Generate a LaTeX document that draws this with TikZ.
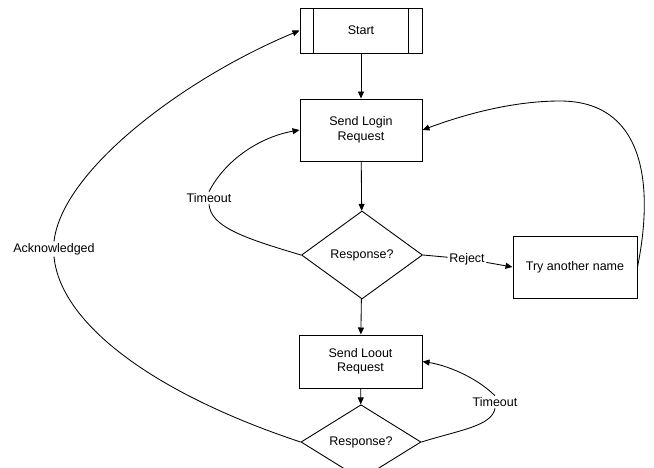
\documentclass[tikz,border=0pt]{standalone}
\usepackage{fontspec}
\setmainfont{Liberation Sans}
\usetikzlibrary{shapes.geometric,arrows.meta}
\begin{document}
\begin{tikzpicture}[x=1pt,y=-1pt,
  every node/.style={font=\fontsize{12.5}{14.5}\selectfont},
  box/.style={draw,line width=1pt,rectangle,inner sep=0pt,align=center},
  dec/.style={draw,line width=0.9pt,diamond,inner sep=0pt},
  lbl/.style={inner sep=1.5pt,fill=none},
  conn/.style={line width=0.85pt},
  arr/.style={conn,-{Triangle[length=7pt,width=6pt]}}]
\useasboundingbox (0,0) rectangle (654,467);
\fill[white] (0,0) rectangle (654,467);
% nodes
\node[box,minimum width=122pt,minimum height=45pt] (start) at (361,30.5) {Start};
\node[box,minimum width=122pt,minimum height=62pt] (login) at (361,130) {Send Login\\Request};
\node[dec,minimum width=121pt,minimum height=88pt] (d1) at (362,255) {Response?};
\node[box,minimum width=124pt,minimum height=62pt] (try) at (575,267) {Try another name};
\node[box,minimum width=123pt,minimum height=53pt] (logout) at (360.5,361.5) {Send Loout\\Request};
\node[dec,minimum width=120pt,minimum height=52pt] (d2) at (361,442) {Response?};
% labels
\node[lbl] (rej) at (467,259) {Reject};
\node[lbl] (t1) at (209,198) {Timeout};
\node[lbl] (ack) at (54,249) {Acknowledged};
\node[lbl] (t2) at (495,402) {Timeout};
% start inner bars
\draw[line width=1pt] ([xshift=14pt]start.north west) -- ([xshift=14pt]start.south west);
\draw[line width=1pt] ([xshift=-14pt]start.north east) -- ([xshift=-14pt]start.south east);
% straight flow
\draw[arr] (start) -- (login);
\draw[arr] (login) -- (d1);
\draw[arr] (d1) -- (logout);
\draw[arr] (logout) -- (d2);
% reject
\draw[conn] (d1.east) -- (rej);
\draw[arr] (rej) -- (try.west);
% try again
\draw[arr] (try.east) .. controls (655,180) and (642,101) .. (560,101)
  .. controls (510,101) and (460,116) .. (login.east);
% timeout 1
\draw[conn] (d1.west) .. controls (240,237) and (211,226) .. (t1.south);
\draw[arr] (t1.north) .. controls (225,160) and (260,137) .. (login.west);
% acknowledged
\draw[conn] (d2.west) .. controls (150,392) and (60,322) .. (ack.south);
\draw[arr] (ack.north) .. controls (62,170) and (185,78) .. (start.west);
% timeout 2
\draw[conn] (d2.east) .. controls (460,430) and (492,426) .. (t2.south);
\draw[arr] (t2.north) .. controls (475,376) and (445,365) .. (logout.east);
\end{tikzpicture}
\end{document}
